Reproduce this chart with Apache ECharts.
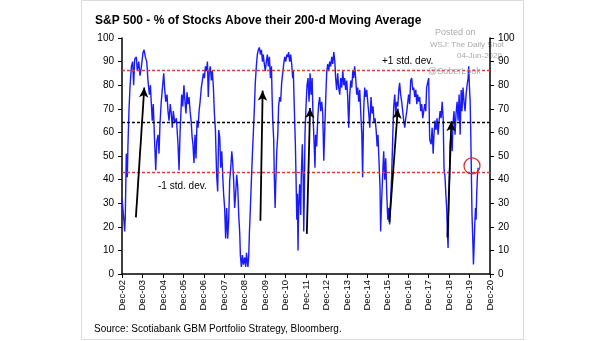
<!DOCTYPE html>
<html>
<head>
<meta charset="utf-8">
<script src="https://cdn.jsdelivr.net/npm/echarts@6/dist/echarts.min.js"></script>
<style>
  html, body { margin: 0; padding: 0; background: #fff; }
  #chart { width: 605px; height: 341px; }
</style>
</head>
<body>
<div id="chart"></div>
<script>
// S&P 500: share of members trading above their 200-day moving average.
// Each reading is [decimal year, percent].
const pctAbove200d = [
  [2002.92,32],[2002.97,27],[2003.02,22],[2003.05,18],[2003.08,24],[2003.13,51],[2003.18,41],[2003.21,54],[2003.26,69],[2003.31,79],
  [2003.38,88],[2003.44,90],[2003.49,80],[2003.54,91],[2003.62,92],[2003.67,86],[2003.74,90],[2003.80,84],[2003.87,88],[2003.95,94],
  [2004.00,95],[2004.06,92],[2004.13,90],[2004.19,82],[2004.26,76],[2004.31,80],[2004.35,73],[2004.40,65],[2004.45,72],[2004.52,55],
  [2004.57,44],[2004.62,56],[2004.68,59],[2004.73,51],[2004.78,64],[2004.84,73],[2004.91,80],[2004.96,85],[2005.01,78],[2005.06,73],
  [2005.12,76],[2005.17,69],[2005.22,65],[2005.28,72],[2005.33,68],[2005.38,62],[2005.43,69],[2005.50,64],[2005.58,66],[2005.66,55],
  [2005.71,44],[2005.76,60],[2005.84,76],[2005.89,71],[2005.95,80],[2006.00,73],[2006.05,68],[2006.10,77],[2006.15,72],[2006.20,75],
  [2006.25,69],[2006.30,65],[2006.35,58],[2006.39,55],[2006.44,47],[2006.49,59],[2006.54,49],[2006.59,65],[2006.64,62],[2006.69,69],
  [2006.74,73],[2006.80,79],[2006.85,82],[2006.90,85],[2006.95,83],[2007.00,88],[2007.05,86],[2007.10,90],[2007.14,75],[2007.19,86],
  [2007.24,88],[2007.29,82],[2007.34,86],[2007.39,79],[2007.44,68],[2007.49,61],[2007.52,51],[2007.55,42],[2007.60,35],[2007.65,61],
  [2007.70,58],[2007.75,45],[2007.80,52],[2007.85,41],[2007.89,34],[2007.94,28],[2007.99,15],[2008.04,28],[2008.09,15],[2008.14,23],
  [2008.19,40],[2008.24,45],[2008.29,52],[2008.33,48],[2008.38,40],[2008.43,28],[2008.48,34],[2008.53,42],[2008.58,37],[2008.63,25],
  [2008.68,17],[2008.71,8],[2008.76,3],[2008.81,8],[2008.86,4],[2008.92,7],[2008.97,3],[2009.01,9],[2009.04,6],[2009.08,3],
  [2009.12,8],[2009.15,17],[2009.20,28],[2009.25,40],[2009.30,51],[2009.35,61],[2009.39,69],[2009.44,81],[2009.49,88],[2009.54,93],
  [2009.59,95],[2009.64,96],[2009.69,93],[2009.74,95],[2009.79,90],[2009.83,93],[2009.88,89],[2009.93,86],[2009.98,90],[2010.03,93],
  [2010.08,88],[2010.13,92],[2010.18,83],[2010.23,88],[2010.26,76],[2010.29,66],[2010.34,57],[2010.37,41],[2010.41,28],[2010.44,38],
  [2010.49,52],[2010.54,59],[2010.58,71],[2010.63,75],[2010.68,73],[2010.73,81],[2010.78,85],[2010.83,89],[2010.88,92],[2010.93,90],
  [2010.98,93],[2011.03,92],[2011.07,94],[2011.12,90],[2011.17,93],[2011.22,89],[2011.27,83],[2011.30,86],[2011.33,76],[2011.37,64],
  [2011.40,55],[2011.43,42],[2011.47,23],[2011.50,34],[2011.53,10],[2011.56,28],[2011.61,38],[2011.66,25],[2011.69,42],[2011.74,55],
  [2011.78,41],[2011.81,18],[2011.84,34],[2011.87,59],[2011.92,71],[2011.97,80],[2012.02,83],[2012.07,73],[2012.12,85],[2012.17,76],
  [2012.22,83],[2012.26,68],[2012.31,57],[2012.36,45],[2012.39,59],[2012.44,54],[2012.49,65],[2012.54,72],[2012.59,75],[2012.64,69],
  [2012.69,73],[2012.74,68],[2012.79,48],[2012.84,62],[2012.88,73],[2012.93,85],[2012.98,89],[2013.03,86],[2013.08,90],[2013.13,88],
  [2013.18,92],[2013.23,89],[2013.28,94],[2013.33,90],[2013.37,83],[2013.42,78],[2013.47,85],[2013.52,79],[2013.57,76],[2013.62,83],
  [2013.67,79],[2013.72,86],[2013.77,80],[2013.81,83],[2013.86,78],[2013.91,82],[2013.96,75],[2014.01,62],[2014.06,76],[2014.11,82],
  [2014.16,79],[2014.21,86],[2014.25,83],[2014.30,88],[2014.35,83],[2014.40,76],[2014.45,79],[2014.50,73],[2014.55,78],[2014.60,68],
  [2014.65,59],[2014.69,41],[2014.74,69],[2014.79,79],[2014.84,75],[2014.89,78],[2014.94,73],[2014.99,68],[2015.04,62],[2015.10,75],
  [2015.15,68],[2015.20,71],[2015.25,64],[2015.30,66],[2015.35,61],[2015.40,54],[2015.44,59],[2015.49,48],[2015.54,37],[2015.57,18],
  [2015.62,31],[2015.67,42],[2015.72,52],[2015.77,40],[2015.82,49],[2015.87,34],[2015.92,23],[2015.97,28],[2016.01,21],[2016.06,31],
  [2016.11,42],[2016.16,57],[2016.21,71],[2016.26,76],[2016.31,68],[2016.36,73],[2016.41,71],[2016.46,78],[2016.50,81],[2016.55,76],
  [2016.60,73],[2016.65,69],[2016.70,65],[2016.75,62],[2016.80,66],[2016.85,69],[2016.90,73],[2016.94,76],[2016.99,72],[2017.04,82],
  [2017.09,83],[2017.14,78],[2017.19,79],[2017.24,75],[2017.29,78],[2017.34,72],[2017.38,76],[2017.43,73],[2017.48,75],[2017.53,69],
  [2017.58,72],[2017.63,66],[2017.68,69],[2017.73,72],[2017.78,69],[2017.82,79],[2017.87,81],[2017.92,83],[2017.97,57],[2018.04,55],
  [2018.09,62],[2018.14,51],[2018.18,59],[2018.23,65],[2018.28,61],[2018.33,66],[2018.38,59],[2018.43,65],[2018.48,69],[2018.53,66],
  [2018.58,73],[2018.63,66],[2018.67,45],[2018.72,41],[2018.76,34],[2018.80,28],[2018.84,17],[2018.87,11],[2018.90,28],[2018.94,42],
  [2018.97,55],[2019.02,59],[2019.07,52],[2019.11,64],[2019.16,69],[2019.21,59],[2019.26,68],[2019.31,73],[2019.36,65],[2019.41,76],
  [2019.46,59],[2019.51,78],[2019.55,69],[2019.60,79],[2019.65,73],[2019.70,69],[2019.75,76],[2019.80,80],[2019.85,83],[2019.88,88],
  [2019.91,80],[2019.95,73],[2019.98,59],[2020.01,42],[2020.04,25],[2020.08,14],[2020.11,4],[2020.14,11],[2020.17,20],[2020.21,28],
  [2020.24,23],[2020.27,34],[2020.30,41],[2020.34,45]
];

// Long-run average and +/- one standard deviation bands (percent)
const meanLevel = 64.5;
const plusOneSd = 86.5;
const minusOneSd = 43;

// Rebounds out of each washout: [from [year, pct], to [year, pct]]
const reboundArrows = [
  [[2003.60, 24], [2004.01, 79]],
  [[2009.69, 22.6], [2009.80, 77.7]],
  [[2011.96, 17], [2012.12, 70.3]],
  [[2016.00, 22], [2016.41, 70]],
  [[2018.84, 15.5], [2019.03, 64.7]]
];

// Latest reading, circled
const latestMark = [2020.04, 45.8];

// X axis: one tick every December, Dec-02 .. Dec-20
const firstDecember = 2002.92;
const tickYearsSpan = 18;

const FONT = '"Liberation Sans", Arial, Helvetica, sans-serif';
const toMonths = yr => (yr - firstDecember) * 12;

const lineData = pctAbove200d.map(([yr, v]) => [toMonths(yr), v]);

const bandLine = (y, color) => ({
  yAxis: y,
  lineStyle: { color: color, type: [3, 2], width: 1.3 }
});

const arrowLines = reboundArrows.map(([a, b]) => [
  { coord: [toMonths(a[0]), a[1]], symbol: 'none', lineStyle: { color: '#000', type: 'solid', width: 1.8 } },
  { coord: [toMonths(b[0]), b[1]], symbol: 'arrow', symbolSize: [7, 10] }
]);

const yAxisCommon = {
  type: 'value', min: 0, max: 100, interval: 10,
  axisLine: { show: true, lineStyle: { color: '#000', width: 1.5 } },
  axisTick: { show: true, length: 4, lineStyle: { color: '#000', width: 1 } },
  splitLine: { show: false },
  axisLabel: { color: '#000', fontSize: 10, fontFamily: FONT, margin: 8 }
};

const chart = echarts.init(document.getElementById('chart'), null, { renderer: 'canvas' });

chart.setOption({
  animation: false,
  backgroundColor: '#fff',
  grid: { left: 122, right: 115, top: 38, bottom: 67, containLabel: false },
  xAxis: {
    type: 'value',
    min: 0, max: tickYearsSpan * 12, interval: 12,
    axisLine: { show: true, onZero: false, lineStyle: { color: '#000', width: 1.5 } },
    axisTick: { show: true, length: 4, lineStyle: { color: '#000', width: 1 } },
    splitLine: { show: false },
    axisLabel: {
      rotate: 90, margin: 6, color: '#000', fontSize: 9.5, fontFamily: FONT,
      formatter: v => 'Dec-' + String((2 + Math.round(v / 12)) % 100).padStart(2, '0')
    }
  },
  yAxis: [
    Object.assign({ position: 'left' }, yAxisCommon),
    Object.assign({ position: 'right' }, yAxisCommon)
  ],
  series: [{
    type: 'line',
    data: lineData,
    yAxisIndex: 0,
    showSymbol: false,
    silent: true,
    lineStyle: { color: '#1a1aff', width: 1.4 },
    markLine: {
      silent: true,
      symbol: 'none',
      label: { show: false },
      data: [
        bandLine(plusOneSd, '#d93a3a'),
        bandLine(meanLevel, '#000'),
        bandLine(minusOneSd, '#d93a3a')
      ].concat(arrowLines)
    },
    markPoint: {
      silent: true,
      label: { show: false },
      data: [{
        coord: [toMonths(latestMark[0]), latestMark[1]],
        symbol: 'circle', symbolSize: 16,
        itemStyle: { color: 'rgba(0,0,0,0)', borderColor: '#d42a2a', borderWidth: 1.2 }
      }]
    }
  }],
  graphic: [
    { type: 'rect', shape: { x: 81.5, y: 0.5, width: 442, height: 339 },
      style: { fill: 'none', stroke: '#dcdcdc', lineWidth: 1 }, silent: true, z: 0 },
    { type: 'text', x: 95, y: 21,
      style: { text: 'S&P 500 - % of Stocks Above their 200-d Moving Average', font: 'bold 12px ' + FONT,
               fill: '#000', align: 'left', verticalAlign: 'middle' } },
    { type: 'text', x: 382, y: 61,
      style: { text: '+1 std. dev.', font: '10px ' + FONT, fill: '#000', align: 'left', verticalAlign: 'middle' } },
    { type: 'text', x: 158, y: 186,
      style: { text: '-1 std. dev.', font: '10px ' + FONT, fill: '#000', align: 'left', verticalAlign: 'middle' } },
    { type: 'text', x: 94, y: 329,
      style: { text: 'Source: Scotiabank GBM Portfolio Strategy, Bloomberg.', font: '10px ' + FONT,
               fill: '#000', align: 'left', verticalAlign: 'middle' } },
    { type: 'text', x: 435, y: 33,
      style: { text: 'Posted on', font: '9px ' + FONT, fill: '#aaaaaa', align: 'left', verticalAlign: 'middle' } },
    { type: 'text', x: 430, y: 45,
      style: { text: 'WSJ: The Daily Shot', font: '8px ' + FONT, fill: '#aaaaaa', align: 'left', verticalAlign: 'middle' } },
    { type: 'text', x: 457, y: 56,
      style: { text: '04-Jun-2020', font: '8px ' + FONT, fill: '#aaaaaa', align: 'left', verticalAlign: 'middle' } },
    { type: 'text', x: 428, y: 72, z: 10,
      style: { text: '@SoberLook', font: '9px ' + FONT, fill: '#aaaaaa', align: 'left', verticalAlign: 'middle' } }
  ]
});
</script>
</body>
</html>
